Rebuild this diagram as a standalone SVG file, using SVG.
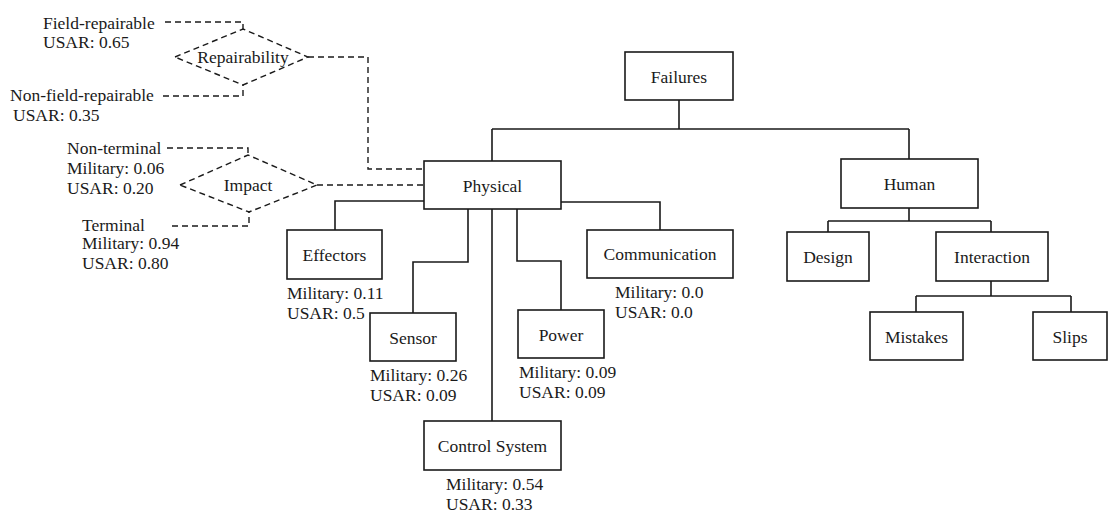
<svg xmlns="http://www.w3.org/2000/svg" width="1108" height="513" viewBox="0 0 1108 513" font-family="'Liberation Serif', Tinos, 'Times New Roman', Times, 'DejaVu Serif', serif">
  <style>
    text { font-family: "Liberation Serif", Tinos, "Times New Roman", Times, "DejaVu Serif", serif; font-size: 17.5px; fill: #1a1a1a; }
    .c { text-anchor: middle; }
    .box { fill: #fff; stroke: #1a1a1a; stroke-width: 1.6; }
    .ln { fill: none; stroke: #1a1a1a; stroke-width: 1.6; }
    .dash { fill: none; stroke: #1a1a1a; stroke-width: 1.4; stroke-dasharray: 6 4; }
  </style>
  <rect width="1108" height="513" fill="#fff"/>

  <!-- tree connectors -->
  <g id="connectors">
    <path class="ln" d="M679 100 V129 M492 129 H909 M492 129 V161 M909 129 V159"/>
    <path class="ln" d="M424 201 H335 V230"/>
    <path class="ln" d="M561 202 H660 V230"/>
    <path class="ln" d="M468 209 V262 H413 V313"/>
    <path class="ln" d="M492 209 V421"/>
    <path class="ln" d="M517 209 V261 H561 V310"/>
    <path class="ln" d="M909 208 V221 M828 221 H991 M828 221 V232 M991 221 V232"/>
    <path class="ln" d="M991 281 V296 M916 296 H1071 M916 296 V312 M1071 296 V312"/>
    <!-- dashed attribute links -->
    <path class="dash" d="M165 22 H243 V29"/>
    <path class="dash" d="M163 96 H243 V85"/>
    <path class="dash" d="M308 57 H368 V169 H424"/>
    <path class="dash" d="M167 148 H248 V155"/>
    <path class="dash" d="M172 226 H249 V212"/>
    <path class="dash" d="M317 185 H424"/>
  </g>

  <!-- attribute diamonds -->
  <g id="repairability">
    <polygon class="dash" points="175,57 243,29 308,57 243,85"/>
    <text class="c" x="243" y="63">Repairability</text>
    <text x="43" y="29">Field-repairable</text>
    <text x="43" y="48">USAR: 0.65</text>
    <text x="10" y="101">Non-field-repairable</text>
    <text x="13" y="121">USAR: 0.35</text>
  </g>
  <g id="impact">
    <polygon class="dash" points="180,185 248,155 317,185 249,212"/>
    <text class="c" x="248" y="191">Impact</text>
    <text x="67" y="154">Non-terminal</text>
    <text x="67" y="174">Military: 0.06</text>
    <text x="67" y="194">USAR: 0.20</text>
    <text x="82" y="231">Terminal</text>
    <text x="82" y="249">Military: 0.94</text>
    <text x="82" y="269">USAR: 0.80</text>
  </g>

  <!-- nodes -->
  <g id="failures">
    <rect class="box" x="625" y="52" width="108" height="48"/>
    <text class="c" x="679" y="83">Failures</text>
  </g>
  <g id="physical">
    <rect class="box" x="424" y="161" width="137" height="48"/>
    <text class="c" x="492.5" y="192">Physical</text>
  </g>
  <g id="human">
    <rect class="box" x="841" y="159" width="137" height="49"/>
    <text class="c" x="909.5" y="190">Human</text>
  </g>
  <g id="effectors">
    <rect class="box" x="287" y="230" width="95" height="49"/>
    <text class="c" x="334.5" y="261">Effectors</text>
    <text x="287" y="299">Military: 0.11</text>
    <text x="287" y="319">USAR: 0.5</text>
  </g>
  <g id="communication">
    <rect class="box" x="587" y="230" width="146" height="48"/>
    <text class="c" x="660" y="260">Communication</text>
    <text x="615" y="298">Military: 0.0</text>
    <text x="615" y="318">USAR: 0.0</text>
  </g>
  <g id="sensor">
    <rect class="box" x="370" y="313" width="86" height="48"/>
    <text class="c" x="413" y="344">Sensor</text>
    <text x="370" y="381">Military: 0.26</text>
    <text x="370" y="401">USAR: 0.09</text>
  </g>
  <g id="power">
    <rect class="box" x="518" y="310" width="86" height="48"/>
    <text class="c" x="561" y="341">Power</text>
    <text x="519" y="378">Military: 0.09</text>
    <text x="519" y="398">USAR: 0.09</text>
  </g>
  <g id="control-system">
    <rect class="box" x="424" y="421" width="137" height="49"/>
    <text class="c" x="492.5" y="452">Control System</text>
    <text x="446" y="490">Military: 0.54</text>
    <text x="446" y="510">USAR: 0.33</text>
  </g>
  <g id="design">
    <rect class="box" x="787" y="232" width="82" height="49"/>
    <text class="c" x="828" y="263">Design</text>
  </g>
  <g id="interaction">
    <rect class="box" x="936" y="232" width="112" height="49"/>
    <text class="c" x="992" y="263">Interaction</text>
  </g>
  <g id="mistakes">
    <rect class="box" x="870" y="312" width="93" height="48"/>
    <text class="c" x="916.5" y="343">Mistakes</text>
  </g>
  <g id="slips">
    <rect class="box" x="1033" y="312" width="74" height="48"/>
    <text class="c" x="1070" y="343">Slips</text>
  </g>
</svg>
